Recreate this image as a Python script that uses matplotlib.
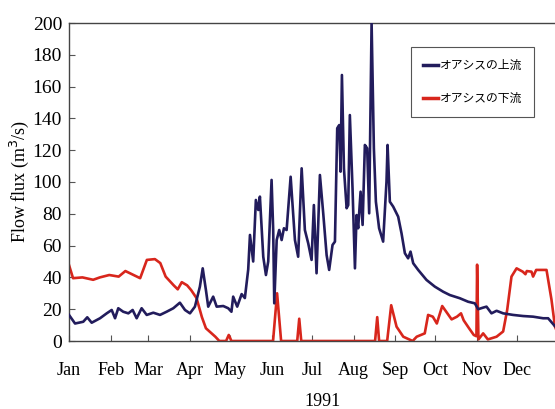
import matplotlib
matplotlib.use("Agg")
import matplotlib.pyplot as plt

plt.rcParams['font.family'] = ['Liberation Serif', 'Noto Sans CJK JP']

# Upstream of the oasis: (day of year, flow m3/s)
up_days = [0, 4.5, 10.6, 13.6, 16.9, 23.1, 28.1, 31.8, 34.3, 36.7, 40.4, 44.2, 47.4, 50.4,
           54.1, 57.9, 62.8, 67.8, 72.7, 77.7, 82.6, 86.4, 90.1, 93.8, 97.5, 99.6, 102,
           103.7, 107.4, 110, 114.9, 118.6, 121, 122.3, 125.3, 128.6, 131, 133.5, 134.8,
           137.2, 139.2, 141, 142.2, 144.7, 146.7, 148.4, 150.9, 152.1, 152.9, 154.7,
           156.6, 158.4, 160.1, 162.1, 165.1, 168.3, 170.7, 173.3, 175.7, 178.2, 180.7,
           182.4, 184.4, 186.9, 189.4, 191.9, 193.8, 196.3, 198.1, 199.8, 201.3, 202.3,
           203.3, 204.8, 206.8, 208, 209.2, 211.2, 213, 214.2, 215.4, 217.2, 218.7, 220.4,
           222.1, 223.6, 225.4, 227.1, 228.6, 231, 234, 236.5, 237.3, 239, 241.5, 245.2,
           247.7, 250.2, 252.6, 254.4, 256.4, 260.1, 266.3, 272.5, 278.7, 283.7, 291.1,
           297.3, 302.3, 304.8, 308.5, 311, 314.7, 318.5, 323.4, 330.8, 338.3, 345.7,
           353.2, 356.9, 361.9, 364]
up_flow = [16.4, 11, 12.1, 14.9, 11.5, 14.3, 17.4, 19.5, 14.3, 20.6, 18.4, 17.4, 19.5, 14.3,
           20.6, 16.4, 17.8, 16.4, 18.4, 20.6, 24.1, 19.5, 17.4, 21.6, 34.2, 45.7, 32,
           21.6, 27.9, 21.6, 22, 20.6, 18.4, 27.9, 21.6, 29.5, 27, 45, 66.7,
           50, 88.7, 82.4, 90.8, 53, 41.5, 50, 101.3, 69.8, 23.7, 63.5,
           69.8, 63.5, 70.9, 69.8, 103.3, 63.5, 53, 108.6, 69.8, 61.4, 51,
           85.5, 42.6, 104.4, 80, 54, 44.7, 60.4, 62.5, 133.8, 135.8, 106.5,
           167.3, 108.6, 83.5, 85.5, 142.1, 96, 45.7, 79.2, 70.9, 93.9, 73, 123.3,
           121.2, 80.3, 200, 121.2, 87.6, 70.9, 62.5, 100.2, 123.3, 87.6, 84.5, 78.2,
           67.7, 55.2, 52, 56.2, 48.9, 44.7, 38.4, 34.2, 31, 28.9, 26.9,
           24.7, 23.7, 20, 21, 21.6, 17.4, 19, 17.4, 16.4, 15.7, 15.3,
           14.3, 14.3, 9.4, 8]

# Downstream of the oasis: (day of year, flow m3/s)
down_days = [0, 3, 10, 18, 23, 30, 37, 42, 53, 58, 64, 68, 72, 78, 81, 84, 88, 91, 95, 99,
             102, 109, 112, 117, 119, 121, 152, 155, 158, 170, 171.5, 173, 228, 229.6, 231,
             237, 240, 244, 249, 256, 259, 265, 267.5, 271, 274, 278, 281, 285, 289, 292,
             294, 298, 301.5, 303.5, 304, 305, 308.5, 312, 318.5, 323.4, 326.4, 329.6,
             333.4, 338, 340, 341, 344.5, 345.7, 348, 355.7, 359.4, 362, 364]
down_flow = [47.8, 39.5, 40, 38.5, 40, 41.5, 40.5, 44, 39.5, 51, 51.5, 49, 40.5, 35, 32.5,
             37, 35, 32, 27, 15, 8, 2.7, 0, 0, 3.8, 0, 0, 30, 0, 0, 14, 0, 0, 15, 0,
             0, 22.5, 9, 2.7, 0, 2.7, 4.8, 16.4, 15.3, 11, 22, 18.4, 13.6, 15.3, 17.4,
             13, 8, 3.8, 3, 48, 1, 4.8, 1, 2.7, 6, 19.5, 40.5,
             45.7, 43.6, 42, 44, 43.6, 40.5, 44.7, 44.7, 26, 9, 5]

month_starts = [0, 31, 59, 90, 120, 151, 181, 212, 243, 273, 304, 334]
month_labels = ['Jan', 'Feb', 'Mar', 'Apr', 'May', 'Jun', 'Jul', 'Aug', 'Sep', 'Oct',
                'Nov', 'Dec']
y_ticks = [0, 20, 40, 60, 80, 100, 120, 140, 160, 180, 200]

W, H = 555, 409
fig = plt.figure(figsize=(W / 100, H / 100), dpi=100)
ax = fig.add_axes([69 / W, (H - 341) / H, (559 - 69) / W, (341 - 23) / H])

ax.plot(up_days, up_flow, color='#221c5c', lw=1.9, label='オアシスの上流', zorder=3)
ax.plot(down_days, down_flow, color='#d8261c', lw=1.9, label='オアシスの下流', zorder=2)

ax.set_xlim(0, 365)
ax.set_ylim(0, 200)
ax.set_xticks(month_starts)
ax.set_xticklabels(month_labels)
ax.set_yticks(y_ticks)
ax.tick_params(direction='in', length=4, width=0.8, color='#555555', labelsize=13)
ax.tick_params(axis='x', pad=15)
ax.tick_params(axis='y', pad=5, labelsize=14)
for s in ['left', 'bottom', 'top']:
    ax.spines[s].set_color('#444444')
    ax.spines[s].set_linewidth(1.0)
ax.spines['right'].set_visible(False)

ax.set_ylabel('Flow flux (m$^3$/s)', fontsize=13, labelpad=1)
fig.text(323 / W, 1 - 401 / H, '1991', ha='center', va='center', fontsize=13)

leg = ax.legend(loc='upper left', bbox_to_anchor=(411 / W, 1 - 47 / H),
                bbox_transform=fig.transFigure,
                prop={'family': 'Noto Sans CJK JP', 'size': 8.5},
                frameon=True, fancybox=False, framealpha=1, edgecolor='#555555',
                handlelength=1.3, handletextpad=0.15, labelspacing=1.7, borderpad=1.0,
                borderaxespad=0)
leg.get_frame().set_linewidth(0.8)
for line in leg.get_lines():
    line.set_linewidth(2.5)

fig.savefig('out.png', dpi=100)
